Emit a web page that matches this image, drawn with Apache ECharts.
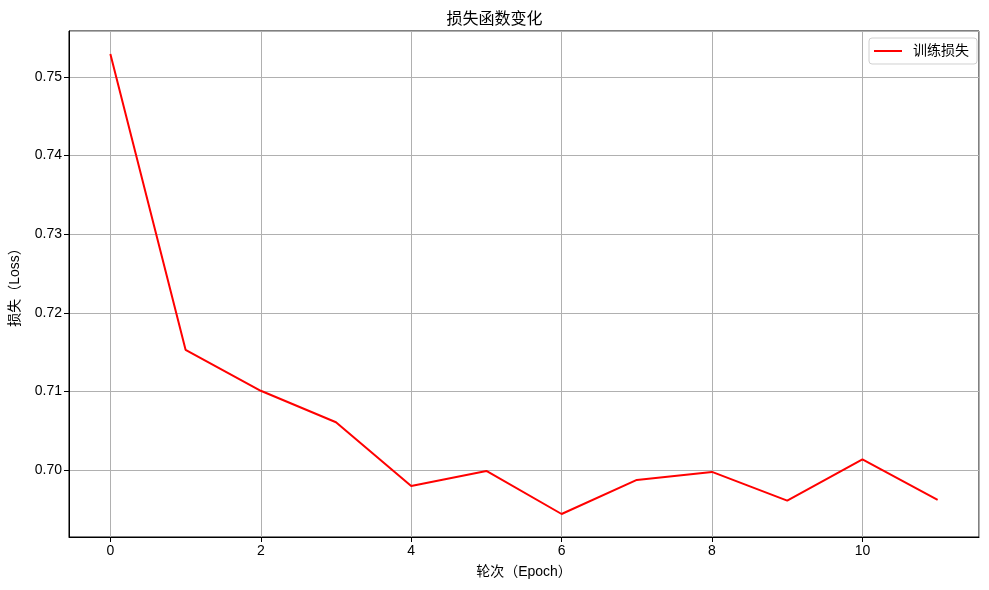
<!DOCTYPE html>
<html><head><meta charset="utf-8">
<script src="https://cdn.jsdelivr.net/npm/echarts@6/dist/echarts.min.js"></script>
<style>html,body{margin:0;padding:0;background:#fff}#c{width:989px;height:590px}</style>
</head><body><div id="c"></div>
<script>
const epochs = [0,1,2,3,4,5,6,7,8,9,10,11];
const lossValues = [0.75293,0.71529,0.71007,0.70607,0.69796,0.69987,0.69439,0.69873,0.69975,0.69609,0.70135,0.69618];
const titleText = '损失函数变化';
const xName = '轮次（Epoch）';
const yName = '损失（Loss）';
const seriesName = '训练损失';

const xMinData = Math.min(...epochs), xMaxData = Math.max(...epochs);
const xPad = (xMaxData - xMinData) * 0.05;
const yMinData = Math.min(...lossValues), yMaxData = Math.max(...lossValues);
const yPad = (yMaxData - yMinData) * 0.05;
const FONT = '"Liberation Sans", "Noto Sans CJK SC", sans-serif';

const chart = echarts.init(document.getElementById('c'), null, {renderer:'canvas'});
function isMult(v, step){ const r = v/step; return Math.abs(r - Math.round(r)) < 1e-6; }
chart.setOption({
  animation:false,
  backgroundColor:'#fff',
  textStyle:{fontFamily:FONT},
  title:{text:titleText,left:'center',top:7,textStyle:{fontSize:16,fontWeight:'normal',color:'#000',fontFamily:FONT}},
  legend:{right:12,top:38,orient:'vertical',itemWidth:28,itemHeight:2,itemGap:10,padding:[6,8,6,5],
    borderColor:'#d0d0d0',borderWidth:1,borderRadius:3,backgroundColor:'#fff',
    textStyle:{fontSize:14,color:'#000',fontFamily:FONT,padding:[0,0,0,6]},
    data:[{name:seriesName,icon:'rect'}]},
  grid:{left:68,right:10,top:31,bottom:53,show:true,borderColor:'#000',borderWidth:1,containLabel:false},
  xAxis:{type:'value',min:xMinData-xPad,max:xMaxData+xPad,splitNumber:5,
    name:xName,nameLocation:'middle',nameGap:28,nameTextStyle:{fontSize:14,color:'#000',fontFamily:FONT},
    axisLine:{show:true,onZero:false,lineStyle:{color:'#000',width:1}},
    axisTick:{show:true,length:5,lineStyle:{color:'#000'}},
    axisLabel:{color:'#000',fontSize:14,margin:7,fontFamily:FONT,showMinLabel:false,showMaxLabel:false,
      formatter:v=>isMult(v,2)?String(Math.round(v)):''},
    splitLine:{show:true,lineStyle:{color:'#b0b0b0',width:1}}},
  yAxis:{type:'value',min:yMinData-yPad,max:yMaxData+yPad,splitNumber:5,
    name:yName,nameLocation:'middle',nameGap:47,nameRotate:90,nameTextStyle:{fontSize:14,color:'#000',fontFamily:FONT},
    axisLine:{show:true,onZero:false,lineStyle:{color:'#000',width:1}},
    axisTick:{show:true,length:5,lineStyle:{color:'#000'}},
    axisLabel:{color:'#000',fontSize:14,margin:7,fontFamily:FONT,showMinLabel:false,showMaxLabel:false,
      formatter:v=>isMult(v,0.01)?v.toFixed(2):''},
    splitLine:{show:true,lineStyle:{color:'#b0b0b0',width:1}}},
  series:[{name:seriesName,type:'line',data:epochs.map((e,i)=>[e,lossValues[i]]),
    symbol:'none',lineStyle:{color:'#ff0000',width:2},itemStyle:{color:'#ff0000'}}]
});
</script></body></html>
